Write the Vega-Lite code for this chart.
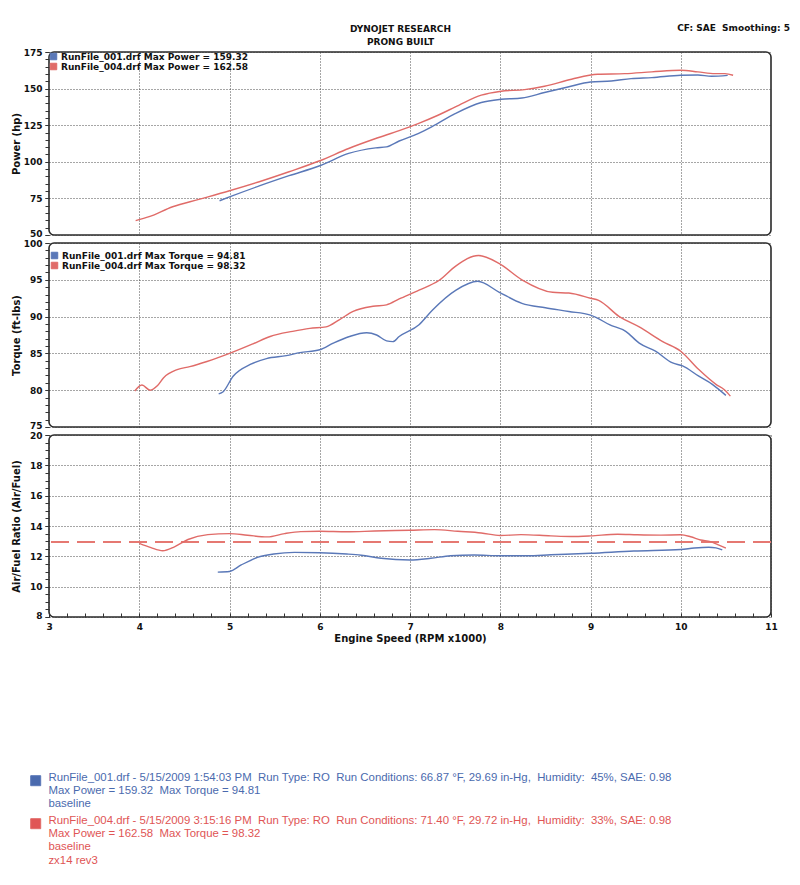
{
  "$schema": "https://vega.github.io/schema/vega-lite/v6.json",
  "background": "white",
  "padding": {"left": 10, "top": 22, "right": 6, "bottom": 6},
  "title": {
    "text": "DYNOJET RESEARCH",
    "subtitle": "PRONG BUILT",
    "anchor": "middle",
    "offset": -24,
    "font": "DejaVu Sans", "fontSize": 9, "fontWeight": "bold", "color": "#111",
    "subtitleFont": "DejaVu Sans", "subtitleFontSize": 9, "subtitleFontWeight": "bold", "subtitleColor": "#111", "subtitlePadding": 4
  },
  "datasets": {
    "power": [
      {"rpm": 3.96, "run": "RunFile_004.drf", "hp": 59.8},
      {"rpm": 4.11, "run": "RunFile_004.drf", "hp": 62.5},
      {"rpm": 4.37, "run": "RunFile_004.drf", "hp": 69.3},
      {"rpm": 4.66, "run": "RunFile_004.drf", "hp": 74.3},
      {"rpm": 5.0, "run": "RunFile_004.drf", "hp": 80.2},
      {"rpm": 5.33, "run": "RunFile_004.drf", "hp": 86.4},
      {"rpm": 5.66, "run": "RunFile_004.drf", "hp": 93.2},
      {"rpm": 6.0, "run": "RunFile_004.drf", "hp": 100.7},
      {"rpm": 6.32, "run": "RunFile_004.drf", "hp": 109.1},
      {"rpm": 6.62, "run": "RunFile_004.drf", "hp": 115.9},
      {"rpm": 6.88, "run": "RunFile_004.drf", "hp": 121.3},
      {"rpm": 7.09, "run": "RunFile_004.drf", "hp": 126.1},
      {"rpm": 7.31, "run": "RunFile_004.drf", "hp": 131.8},
      {"rpm": 7.54, "run": "RunFile_004.drf", "hp": 138.6},
      {"rpm": 7.79, "run": "RunFile_004.drf", "hp": 145.5},
      {"rpm": 8.01, "run": "RunFile_004.drf", "hp": 148.2},
      {"rpm": 8.27, "run": "RunFile_004.drf", "hp": 149.3},
      {"rpm": 8.49, "run": "RunFile_004.drf", "hp": 151.6},
      {"rpm": 8.79, "run": "RunFile_004.drf", "hp": 156.4},
      {"rpm": 9.08, "run": "RunFile_004.drf", "hp": 159.8},
      {"rpm": 9.38, "run": "RunFile_004.drf", "hp": 160.2},
      {"rpm": 9.68, "run": "RunFile_004.drf", "hp": 161.4},
      {"rpm": 10.0, "run": "RunFile_004.drf", "hp": 162.5},
      {"rpm": 10.19, "run": "RunFile_004.drf", "hp": 161.4},
      {"rpm": 10.38, "run": "RunFile_004.drf", "hp": 160.2},
      {"rpm": 10.49, "run": "RunFile_004.drf", "hp": 160.2},
      {"rpm": 10.58, "run": "RunFile_004.drf", "hp": 159.1},
      {"rpm": 4.89, "run": "RunFile_001.drf", "hp": 73.4},
      {"rpm": 5.0, "run": "RunFile_001.drf", "hp": 76.0},
      {"rpm": 5.33, "run": "RunFile_001.drf", "hp": 83.5},
      {"rpm": 5.66, "run": "RunFile_001.drf", "hp": 90.5},
      {"rpm": 6.0, "run": "RunFile_001.drf", "hp": 97.3},
      {"rpm": 6.32, "run": "RunFile_001.drf", "hp": 105.7},
      {"rpm": 6.62, "run": "RunFile_001.drf", "hp": 109.5},
      {"rpm": 6.74, "run": "RunFile_001.drf", "hp": 110.2},
      {"rpm": 6.88, "run": "RunFile_001.drf", "hp": 114.2},
      {"rpm": 7.09, "run": "RunFile_001.drf", "hp": 119.3},
      {"rpm": 7.24, "run": "RunFile_001.drf", "hp": 123.9},
      {"rpm": 7.5, "run": "RunFile_001.drf", "hp": 132.9},
      {"rpm": 7.79, "run": "RunFile_001.drf", "hp": 140.5},
      {"rpm": 8.01, "run": "RunFile_001.drf", "hp": 142.7},
      {"rpm": 8.24, "run": "RunFile_001.drf", "hp": 143.6},
      {"rpm": 8.49, "run": "RunFile_001.drf", "hp": 147.3},
      {"rpm": 8.75, "run": "RunFile_001.drf", "hp": 151.1},
      {"rpm": 9.0, "run": "RunFile_001.drf", "hp": 154.5},
      {"rpm": 9.23, "run": "RunFile_001.drf", "hp": 155.2},
      {"rpm": 9.45, "run": "RunFile_001.drf", "hp": 156.8},
      {"rpm": 9.68, "run": "RunFile_001.drf", "hp": 157.5},
      {"rpm": 10.0, "run": "RunFile_001.drf", "hp": 159.1},
      {"rpm": 10.19, "run": "RunFile_001.drf", "hp": 159.3},
      {"rpm": 10.34, "run": "RunFile_001.drf", "hp": 158.4},
      {"rpm": 10.52, "run": "RunFile_001.drf", "hp": 159.0}
    ],
    "torque": [
      {"rpm": 3.95, "run": "RunFile_004.drf", "tq": 79.9},
      {"rpm": 4.03, "run": "RunFile_004.drf", "tq": 80.7},
      {"rpm": 4.12, "run": "RunFile_004.drf", "tq": 80.0},
      {"rpm": 4.2, "run": "RunFile_004.drf", "tq": 80.6},
      {"rpm": 4.27, "run": "RunFile_004.drf", "tq": 81.7},
      {"rpm": 4.42, "run": "RunFile_004.drf", "tq": 82.8},
      {"rpm": 4.56, "run": "RunFile_004.drf", "tq": 83.2},
      {"rpm": 4.75, "run": "RunFile_004.drf", "tq": 83.9},
      {"rpm": 5.0, "run": "RunFile_004.drf", "tq": 85.0},
      {"rpm": 5.26, "run": "RunFile_004.drf", "tq": 86.3},
      {"rpm": 5.45, "run": "RunFile_004.drf", "tq": 87.3},
      {"rpm": 5.7, "run": "RunFile_004.drf", "tq": 88.0},
      {"rpm": 5.89, "run": "RunFile_004.drf", "tq": 88.4},
      {"rpm": 6.07, "run": "RunFile_004.drf", "tq": 88.6},
      {"rpm": 6.22, "run": "RunFile_004.drf", "tq": 89.6},
      {"rpm": 6.37, "run": "RunFile_004.drf", "tq": 90.7},
      {"rpm": 6.59, "run": "RunFile_004.drf", "tq": 91.4},
      {"rpm": 6.74, "run": "RunFile_004.drf", "tq": 91.6},
      {"rpm": 6.88, "run": "RunFile_004.drf", "tq": 92.4},
      {"rpm": 7.1, "run": "RunFile_004.drf", "tq": 93.6},
      {"rpm": 7.32, "run": "RunFile_004.drf", "tq": 94.9},
      {"rpm": 7.51, "run": "RunFile_004.drf", "tq": 96.9},
      {"rpm": 7.76, "run": "RunFile_004.drf", "tq": 98.3},
      {"rpm": 7.99, "run": "RunFile_004.drf", "tq": 97.2},
      {"rpm": 8.24, "run": "RunFile_004.drf", "tq": 95.0},
      {"rpm": 8.58, "run": "RunFile_004.drf", "tq": 93.3},
      {"rpm": 8.76, "run": "RunFile_004.drf", "tq": 93.2},
      {"rpm": 9.0, "run": "RunFile_004.drf", "tq": 92.5},
      {"rpm": 9.09, "run": "RunFile_004.drf", "tq": 92.2},
      {"rpm": 9.32, "run": "RunFile_004.drf", "tq": 90.0},
      {"rpm": 9.54, "run": "RunFile_004.drf", "tq": 88.6},
      {"rpm": 9.8, "run": "RunFile_004.drf", "tq": 86.6},
      {"rpm": 10.0, "run": "RunFile_004.drf", "tq": 85.3},
      {"rpm": 10.2, "run": "RunFile_004.drf", "tq": 82.8},
      {"rpm": 10.39, "run": "RunFile_004.drf", "tq": 80.8},
      {"rpm": 10.48, "run": "RunFile_004.drf", "tq": 80.1},
      {"rpm": 10.55, "run": "RunFile_004.drf", "tq": 79.2},
      {"rpm": 4.88, "run": "RunFile_001.drf", "tq": 79.5},
      {"rpm": 4.93, "run": "RunFile_001.drf", "tq": 79.8},
      {"rpm": 5.04, "run": "RunFile_001.drf", "tq": 81.9},
      {"rpm": 5.23, "run": "RunFile_001.drf", "tq": 83.5},
      {"rpm": 5.41, "run": "RunFile_001.drf", "tq": 84.3},
      {"rpm": 5.63, "run": "RunFile_001.drf", "tq": 84.7},
      {"rpm": 5.78, "run": "RunFile_001.drf", "tq": 85.1},
      {"rpm": 6.0, "run": "RunFile_001.drf", "tq": 85.5},
      {"rpm": 6.15, "run": "RunFile_001.drf", "tq": 86.4},
      {"rpm": 6.33, "run": "RunFile_001.drf", "tq": 87.3},
      {"rpm": 6.52, "run": "RunFile_001.drf", "tq": 87.8},
      {"rpm": 6.63, "run": "RunFile_001.drf", "tq": 87.5},
      {"rpm": 6.74, "run": "RunFile_001.drf", "tq": 86.7},
      {"rpm": 6.81, "run": "RunFile_001.drf", "tq": 86.6},
      {"rpm": 6.88, "run": "RunFile_001.drf", "tq": 87.3},
      {"rpm": 7.1, "run": "RunFile_001.drf", "tq": 88.9},
      {"rpm": 7.25, "run": "RunFile_001.drf", "tq": 90.9},
      {"rpm": 7.51, "run": "RunFile_001.drf", "tq": 93.6},
      {"rpm": 7.75, "run": "RunFile_001.drf", "tq": 94.8},
      {"rpm": 7.99, "run": "RunFile_001.drf", "tq": 93.3},
      {"rpm": 8.24, "run": "RunFile_001.drf", "tq": 91.8},
      {"rpm": 8.5, "run": "RunFile_001.drf", "tq": 91.2},
      {"rpm": 8.76, "run": "RunFile_001.drf", "tq": 90.7},
      {"rpm": 9.0, "run": "RunFile_001.drf", "tq": 90.2},
      {"rpm": 9.06, "run": "RunFile_001.drf", "tq": 89.9},
      {"rpm": 9.21, "run": "RunFile_001.drf", "tq": 88.9},
      {"rpm": 9.39, "run": "RunFile_001.drf", "tq": 88.0},
      {"rpm": 9.54, "run": "RunFile_001.drf", "tq": 86.4},
      {"rpm": 9.72, "run": "RunFile_001.drf", "tq": 85.3},
      {"rpm": 9.91, "run": "RunFile_001.drf", "tq": 83.7},
      {"rpm": 10.02, "run": "RunFile_001.drf", "tq": 83.3},
      {"rpm": 10.2, "run": "RunFile_001.drf", "tq": 81.9},
      {"rpm": 10.35, "run": "RunFile_001.drf", "tq": 80.8},
      {"rpm": 10.5, "run": "RunFile_001.drf", "tq": 79.3}
    ],
    "afr": [
      {"rpm": 4.0, "run": "RunFile_004.drf", "afr": 12.85},
      {"rpm": 4.13, "run": "RunFile_004.drf", "afr": 12.57},
      {"rpm": 4.26, "run": "RunFile_004.drf", "afr": 12.37},
      {"rpm": 4.39, "run": "RunFile_004.drf", "afr": 12.63},
      {"rpm": 4.54, "run": "RunFile_004.drf", "afr": 13.11},
      {"rpm": 4.76, "run": "RunFile_004.drf", "afr": 13.43},
      {"rpm": 5.0, "run": "RunFile_004.drf", "afr": 13.5},
      {"rpm": 5.2, "run": "RunFile_004.drf", "afr": 13.39},
      {"rpm": 5.42, "run": "RunFile_004.drf", "afr": 13.28},
      {"rpm": 5.61, "run": "RunFile_004.drf", "afr": 13.5},
      {"rpm": 5.79, "run": "RunFile_004.drf", "afr": 13.63},
      {"rpm": 6.0, "run": "RunFile_004.drf", "afr": 13.65},
      {"rpm": 6.3, "run": "RunFile_004.drf", "afr": 13.62},
      {"rpm": 6.61, "run": "RunFile_004.drf", "afr": 13.67},
      {"rpm": 7.0, "run": "RunFile_004.drf", "afr": 13.72},
      {"rpm": 7.27, "run": "RunFile_004.drf", "afr": 13.76},
      {"rpm": 7.53, "run": "RunFile_004.drf", "afr": 13.65},
      {"rpm": 7.79, "run": "RunFile_004.drf", "afr": 13.54},
      {"rpm": 8.0, "run": "RunFile_004.drf", "afr": 13.37},
      {"rpm": 8.23, "run": "RunFile_004.drf", "afr": 13.43},
      {"rpm": 8.56, "run": "RunFile_004.drf", "afr": 13.35},
      {"rpm": 8.78, "run": "RunFile_004.drf", "afr": 13.31},
      {"rpm": 9.0, "run": "RunFile_004.drf", "afr": 13.35},
      {"rpm": 9.3, "run": "RunFile_004.drf", "afr": 13.46},
      {"rpm": 9.52, "run": "RunFile_004.drf", "afr": 13.42},
      {"rpm": 9.78, "run": "RunFile_004.drf", "afr": 13.4},
      {"rpm": 10.0, "run": "RunFile_004.drf", "afr": 13.42},
      {"rpm": 10.11, "run": "RunFile_004.drf", "afr": 13.29},
      {"rpm": 10.22, "run": "RunFile_004.drf", "afr": 13.08},
      {"rpm": 10.33, "run": "RunFile_004.drf", "afr": 12.97},
      {"rpm": 10.41, "run": "RunFile_004.drf", "afr": 12.77},
      {"rpm": 10.5, "run": "RunFile_004.drf", "afr": 12.54},
      {"rpm": 4.87, "run": "RunFile_001.drf", "afr": 10.96},
      {"rpm": 5.0, "run": "RunFile_001.drf", "afr": 11.0},
      {"rpm": 5.13, "run": "RunFile_001.drf", "afr": 11.43},
      {"rpm": 5.31, "run": "RunFile_001.drf", "afr": 11.93},
      {"rpm": 5.49, "run": "RunFile_001.drf", "afr": 12.15},
      {"rpm": 5.72, "run": "RunFile_001.drf", "afr": 12.26},
      {"rpm": 6.0, "run": "RunFile_001.drf", "afr": 12.24},
      {"rpm": 6.3, "run": "RunFile_001.drf", "afr": 12.15},
      {"rpm": 6.46, "run": "RunFile_001.drf", "afr": 12.07},
      {"rpm": 6.68, "run": "RunFile_001.drf", "afr": 11.87},
      {"rpm": 7.0, "run": "RunFile_001.drf", "afr": 11.76},
      {"rpm": 7.23, "run": "RunFile_001.drf", "afr": 11.87},
      {"rpm": 7.45, "run": "RunFile_001.drf", "afr": 12.04},
      {"rpm": 7.71, "run": "RunFile_001.drf", "afr": 12.09},
      {"rpm": 8.0, "run": "RunFile_001.drf", "afr": 12.04},
      {"rpm": 8.3, "run": "RunFile_001.drf", "afr": 12.04},
      {"rpm": 8.56, "run": "RunFile_001.drf", "afr": 12.1},
      {"rpm": 9.0, "run": "RunFile_001.drf", "afr": 12.2},
      {"rpm": 9.48, "run": "RunFile_001.drf", "afr": 12.35},
      {"rpm": 10.0, "run": "RunFile_001.drf", "afr": 12.45},
      {"rpm": 10.15, "run": "RunFile_001.drf", "afr": 12.55},
      {"rpm": 10.31, "run": "RunFile_001.drf", "afr": 12.6},
      {"rpm": 10.39, "run": "RunFile_001.drf", "afr": 12.56},
      {"rpm": 10.46, "run": "RunFile_001.drf", "afr": 12.42}
    ]
  },
  "spacing": -2,
  "resolve": {"legend": {"color": "independent"}},
  "vconcat": [
    {
      "width": 722, "height": 183,
      "title": {"text": "CF: SAE\u00a0 Smoothing: 5", "anchor": "end", "offset": 16, "dx": 19, "font": "DejaVu Sans", "fontSize": 9, "fontWeight": "bold", "color": "#111"},
      "data": {"name": "power"},
      "resolve": {"axis": {"y": "independent"}},
      "layer": [
        {
          "transform": [{"filter": "datum.run == 'RunFile_001.drf'"}],
          "mark": {"type": "line", "interpolate": "monotone", "strokeWidth": 1.4},
          "encoding": {
            "x": {"field": "rpm", "type": "quantitative", "scale": {"domain": [3, 11], "nice": false, "zero": false},
                  "axis": {"orient": "bottom", "values": [4, 5, 6, 7, 8, 9, 10], "grid": true, "labels": false, "ticks": false, "title": null}},
            "y": {"field": "hp", "type": "quantitative", "scale": {"domain": [50, 175], "nice": false, "zero": false},
                  "axis": {"orient": "left", "values": [50, 75, 100, 125, 150, 175], "grid": true, "title": "Power (hp)", "tickSize": 4, "labelPadding": 3, "labelFlush": true, "labelFlushOffset": 3.5, "minExtent": 25, "maxExtent": 25, "titlePadding": 3}},
            "color": {"field": "run", "type": "nominal",
                      "scale": {"domain": ["RunFile_001.drf", "RunFile_004.drf"], "range": ["#5a78b8", "#e06b68"]},
                      "legend": {"orient": "top-left", "offset": 0, "padding": 0, "title": null, "direction": "vertical", "rowPadding": 0, "clipHeight": 9, "labelOffset": 3,
                                 "symbolType": "square", "symbolSize": 42, "symbolStrokeWidth": 1,
                                 "symbolFillColor": {"expr": "datum.value == 'RunFile_001.drf' ? '#5a78b8' : '#e06b68'"},
                                 "labelExpr": "datum.label + ' Max Power = ' + (datum.label == 'RunFile_001.drf' ? '159.32' : '162.58')"}}
          }
        },
        {
          "transform": [{"filter": "datum.run == 'RunFile_004.drf'"}],
          "mark": {"type": "line", "interpolate": "monotone", "strokeWidth": 1.4},
          "encoding": {
            "x": {"field": "rpm", "type": "quantitative", "scale": {"domain": [3, 11], "nice": false, "zero": false}},
            "y": {"field": "hp", "type": "quantitative", "scale": {"domain": [50, 175], "nice": false, "zero": false},
                  "axis": {"orient": "left", "values": [50, 55, 60, 65, 70, 75, 80, 85, 90, 95, 100, 105, 110, 115, 120, 125, 130, 135, 140, 145, 150, 155, 160, 165, 170, 175], "labels": false, "grid": false, "title": null, "tickSize": 4}},
            "color": {"field": "run", "type": "nominal",
                      "scale": {"domain": ["RunFile_001.drf", "RunFile_004.drf"], "range": ["#5a78b8", "#e06b68"]}}
          }
        }
      ]
    },
    {
      "width": 722, "height": 184,
      "data": {"name": "torque"},
      "resolve": {"axis": {"y": "independent"}},
      "layer": [
        {
          "transform": [{"filter": "datum.run == 'RunFile_001.drf'"}],
          "mark": {"type": "line", "interpolate": "monotone", "strokeWidth": 1.4},
          "encoding": {
            "x": {"field": "rpm", "type": "quantitative", "scale": {"domain": [3, 11], "nice": false, "zero": false},
                  "axis": {"orient": "bottom", "values": [4, 5, 6, 7, 8, 9, 10], "grid": true, "labels": false, "ticks": false, "title": null}},
            "y": {"field": "tq", "type": "quantitative", "scale": {"domain": [75, 100], "nice": false, "zero": false},
                  "axis": {"orient": "left", "values": [75, 80, 85, 90, 95, 100], "grid": true, "title": "Torque (ft-lbs)", "tickSize": 4, "labelPadding": 3, "labelFlush": true, "labelFlushOffset": 3.5, "minExtent": 25, "maxExtent": 25, "titlePadding": 3}},
            "color": {"field": "run", "type": "nominal",
                      "scale": {"domain": ["RunFile_001.drf", "RunFile_004.drf"], "range": ["#5a78b8", "#e06b68"]},
                      "legend": {"orient": "top-left", "offset": 1, "padding": 0, "title": "\u00a0", "titleFontSize": 1, "titlePadding": 6, "direction": "vertical", "rowPadding": 0, "clipHeight": 9, "labelOffset": 3,
                                 "symbolType": "square", "symbolSize": 42, "symbolStrokeWidth": 1,
                                 "symbolFillColor": {"expr": "datum.value == 'RunFile_001.drf' ? '#5a78b8' : '#e06b68'"},
                                 "labelExpr": "datum.label + ' Max Torque = ' + (datum.label == 'RunFile_001.drf' ? '94.81' : '98.32')"}}
          }
        },
        {
          "transform": [{"filter": "datum.run == 'RunFile_004.drf'"}],
          "mark": {"type": "line", "interpolate": "monotone", "strokeWidth": 1.4},
          "encoding": {
            "x": {"field": "rpm", "type": "quantitative", "scale": {"domain": [3, 11], "nice": false, "zero": false}},
            "y": {"field": "tq", "type": "quantitative", "scale": {"domain": [75, 100], "nice": false, "zero": false},
                  "axis": {"orient": "left", "values": [75, 76, 77, 78, 79, 80, 81, 82, 83, 84, 85, 86, 87, 88, 89, 90, 91, 92, 93, 94, 95, 96, 97, 98, 99, 100], "labels": false, "grid": false, "title": null, "tickSize": 4}},
            "color": {"field": "run", "type": "nominal",
                      "scale": {"domain": ["RunFile_001.drf", "RunFile_004.drf"], "range": ["#5a78b8", "#e06b68"]}}
          }
        }
      ]
    },
    {
      "width": 722, "height": 182,
      "data": {"name": "afr"},
      "resolve": {"axis": {"x": "independent", "y": "independent"}},
      "layer": [
        {
          "mark": {"type": "rule", "color": "#e57872", "strokeDash": [18, 8], "strokeWidth": 1.4},
          "encoding": {
            "y": {"datum": 12.95, "type": "quantitative", "scale": {"domain": [8, 20], "nice": false, "zero": false}, "axis": null}
          }
        },
        {
          "transform": [{"filter": "datum.run == 'RunFile_001.drf'"}],
          "mark": {"type": "line", "interpolate": "monotone", "strokeWidth": 1.4},
          "encoding": {
            "x": {"field": "rpm", "type": "quantitative", "scale": {"domain": [3, 11], "nice": false, "zero": false},
                  "axis": {"orient": "bottom", "values": [3, 4, 5, 6, 7, 8, 9, 10, 11], "grid": true, "ticks": false, "labelPadding": 5, "title": "Engine Speed (RPM x1000)", "titlePadding": 2, "labelFlush": false}},
            "y": {"field": "afr", "type": "quantitative", "scale": {"domain": [8, 20], "nice": false, "zero": false},
                  "axis": {"orient": "left", "values": [8, 10, 12, 14, 16, 18, 20], "grid": true, "title": "Air/Fuel Ratio (Air/Fuel)", "tickSize": 4, "labelPadding": 3, "labelFlush": true, "labelFlushOffset": 3.5, "minExtent": 25, "maxExtent": 25, "titlePadding": 3}},
            "color": {"field": "run", "type": "nominal",
                      "scale": {"domain": ["RunFile_001.drf", "RunFile_004.drf"], "range": ["#5a78b8", "#e06b68"]},
                      "legend": {"orient": "none", "legendX": -19, "legendY": 340, "direction": "vertical", "padding": 0, "title": null, "rowPadding": 4, "labelOffset": 7,
                                 "symbolType": "square", "symbolSize": 100, "symbolStrokeWidth": 1,
                                 "symbolFillColor": {"expr": "datum.value == 'RunFile_001.drf' ? '#4a6aae' : '#e05555'"},
                                 "labelFont": "Liberation Sans", "labelFontWeight": "normal", "labelFontSize": 11.4, "labelBaseline": "alphabetic", "labelLimit": 0,
                                 "labelColor": {"expr": "datum.value == 'RunFile_001.drf' ? '#4a6aae' : '#e05555'"},
                                 "labelExpr": "datum.label == 'RunFile_001.drf' ? ['RunFile_001.drf - 5/15/2009 1:54:03 PM\u00a0 Run Type: RO\u00a0 Run Conditions: 66.87 °F, 29.69 in-Hg,\u00a0 Humidity:\u00a0 45%, SAE: 0.98', 'Max Power = 159.32\u00a0 Max Torque = 94.81', 'baseline'] : ['RunFile_004.drf - 5/15/2009 3:15:16 PM\u00a0 Run Type: RO\u00a0 Run Conditions: 71.40 °F, 29.72 in-Hg,\u00a0 Humidity:\u00a0 33%, SAE: 0.98', 'Max Power = 162.58\u00a0 Max Torque = 98.32', 'baseline', 'zx14 rev3']"}}
          }
        },
        {
          "transform": [{"filter": "datum.run == 'RunFile_004.drf'"}],
          "mark": {"type": "line", "interpolate": "monotone", "strokeWidth": 1.4},
          "encoding": {
            "x": {"field": "rpm", "type": "quantitative", "scale": {"domain": [3, 11], "nice": false, "zero": false},
                  "axis": {"orient": "bottom", "values": [3, 3.2, 3.4, 3.6, 3.8, 4, 4.2, 4.4, 4.6, 4.8, 5, 5.2, 5.4, 5.6, 5.8, 6, 6.2, 6.4, 6.6, 6.8, 7, 7.2, 7.4, 7.6, 7.8, 8, 8.2, 8.4, 8.6, 8.8, 9, 9.2, 9.4, 9.6, 9.8, 10, 10.2, 10.4, 10.6, 10.8, 11], "labels": false, "grid": false, "title": null, "tickSize": -4}},
            "y": {"field": "afr", "type": "quantitative", "scale": {"domain": [8, 20], "nice": false, "zero": false},
                  "axis": {"orient": "left", "values": [8, 8.5, 9, 9.5, 10, 10.5, 11, 11.5, 12, 12.5, 13, 13.5, 14, 14.5, 15, 15.5, 16, 16.5, 17, 17.5, 18, 18.5, 19, 19.5, 20], "labels": false, "grid": false, "title": null, "tickSize": 4}},
            "color": {"field": "run", "type": "nominal",
                      "scale": {"domain": ["RunFile_001.drf", "RunFile_004.drf"], "range": ["#5a78b8", "#e06b68"]}}
          }
        }
      ]
    }
  ],
  "config": {
    "font": "DejaVu Sans",
    "view": {"stroke": "#2a2a2a", "strokeWidth": 1.6, "cornerRadius": 5},
    "axis": {"domain": false, "labelFont": "DejaVu Sans", "labelFontWeight": "bold", "labelFontSize": 9, "labelColor": "#111",
             "titleFont": "DejaVu Sans", "titleFontWeight": "bold", "titleFontSize": 10, "titleColor": "#111",
             "tickColor": "#333", "tickWidth": 1, "gridColor": "#3a3a3a", "gridDash": [1, 2], "gridOpacity": 0.9, "gridWidth": 1},
    "legend": {"labelFont": "DejaVu Sans", "labelFontWeight": "bold", "labelFontSize": 9, "labelColor": "#111", "labelLimit": 0}
  }
}
